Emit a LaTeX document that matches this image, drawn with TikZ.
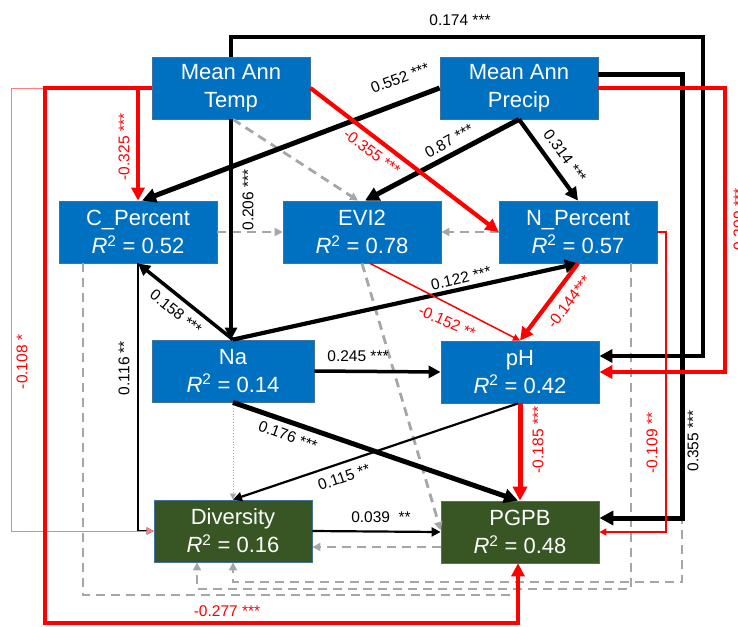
\documentclass[tikz,border=0pt]{standalone}
\usepackage{fontspec}
\setmainfont{Liberation Sans}
\usetikzlibrary{arrows.meta,calc}
\definecolor{boxblue}{HTML}{0070C0}
\definecolor{boxgreen}{HTML}{375623}
\definecolor{boxedge}{HTML}{41719C}
\definecolor{dgray}{HTML}{A6A6A6}
\definecolor{lred}{HTML}{FF7C80}
\begin{document}
\begin{tikzpicture}[x=1pt,y=-1pt,
  box/.style={minimum width=158pt,minimum height=62pt,inner sep=0pt,draw=boxedge,line width=0.8pt,text=white,align=center,font=\fontsize{22}{28}\selectfont},
  bluebox/.style={box,fill=boxblue},
  greenbox/.style={box,fill=boxgreen},
  blk/.style={draw=black},
  rd/.style={draw=red},
  w1/.style={line width=1.5pt,-{Triangle[length=7pt,width=7pt]}},
  w2/.style={line width=2.2pt,-{Triangle[length=9pt,width=9pt]}},
  w3/.style={line width=3.5pt,-{Triangle[length=12pt,width=12pt]}},
  w4/.style={line width=4.2pt,-{Triangle[length=13pt,width=13pt]}},
  w5/.style={line width=5pt,-{Triangle[length=14pt,width=14pt]}},
  gdash/.style={draw=dgray,line width=2.8pt,dash pattern=on 9pt off 6pt,-{Triangle[length=8pt,width=8pt]}},
  gdot/.style={draw=dgray,line width=0.8pt,dotted,-{Triangle[length=6pt,width=6pt]}},
  lab/.style={font=\fontsize{15.5}{17}\selectfont,inner sep=1pt},
  rlab/.style={lab,text=red}
]
\useasboundingbox (0,0) rectangle (738,626);
% nodes
\node[bluebox] (Temp) at (231,88) {Mean Ann\\Temp};
\node[bluebox] (Precip) at (519,88) {Mean Ann\\Precip};
\node[bluebox] (CP) at (138,232) {C\_Percent\\\textit{R}\textsuperscript{2} = 0.52};
\node[bluebox] (EVI) at (362,232) {EVI2\\\textit{R}\textsuperscript{2} = 0.78};
\node[bluebox] (NP) at (578,232) {N\_Percent\\\textit{R}\textsuperscript{2} = 0.57};
\node[bluebox,minimum width=162pt] (Na) at (233,371) {Na\\\textit{R}\textsuperscript{2} = 0.14};
\node[bluebox] (pH) at (520,372) {pH\\\textit{R}\textsuperscript{2} = 0.42};
\node[greenbox] (Div) at (233,531) {Diversity\\\textit{R}\textsuperscript{2} = 0.16};
\node[greenbox] (PGPB) at (520,532) {PGPB\\\textit{R}\textsuperscript{2} = 0.48};
% gray dashed
\draw[gdash] ([yshift=14pt]Precip.east) -- (682,74) -- (682,582) -- (233,582) -- (Div.south);
\draw[gdash] ([xshift=53pt]NP.south) -- (631,589) -- (197,589) -- ([xshift=-36pt]Div.south);
\draw[gdash] ([xshift=-55pt]CP.south) -- (83,595) -- (518,595) -- ([xshift=-2pt]PGPB.south);
\draw[gdash] ([xshift=2pt]Temp.south) -- ([xshift=-4pt]EVI.north);
\draw[gdash] (CP.east) -- (EVI.west);
\draw[gdash] (NP.west) -- (EVI.east);
\draw[gdash] (EVI.south) -- ([yshift=2pt]PGPB.west);
\draw[gdash] ([yshift=-15pt]PGPB.west) -- ([yshift=-16pt]Div.east);
\draw[gdot] (Na.south) -- (Div.north);
% black
\draw[blk,w4] (Temp.north) -- (231,37) -- (703,37) -- (703,356) -- ([yshift=16pt]pH.east);
\draw[blk,w5] ([yshift=14pt]Precip.east) -- (682,74) -- (682,518) -- ([yshift=14pt]PGPB.east);
\draw[blk,w5] (Precip.west) -- ([xshift=4pt]CP.north);
\draw[blk,w5] (Precip.south) -- ([xshift=3pt]EVI.north);
\draw[blk,w4] (Precip.south) -- (NP.north);
\draw[blk,w3] (Temp.south) -- ([xshift=-2pt]Na.north);
\draw[blk,w3] (Na.north) -- (CP.south);
\draw[blk,w4] (Na.north) -- (NP.south);
\draw[blk,w3] (Na.east) -- (pH.west);
\draw[blk,w5] (Na.south) -- ([xshift=-2pt]PGPB.north);
\draw[blk,w2] ([xshift=-2pt]pH.south) -- (Div.north);
\draw[blk,w2] (Div.east) -- (PGPB.west);
\draw[blk,w1] (CP.south) -- (138,531) -- (Div.west);
% red
\draw[rd,w4] (Precip.east) -- (725,88) -- (725,372) -- (pH.east);
\draw[rd,w4] (Temp.west) -| (CP.north);
\draw[lred,line width=1pt,-{Triangle[length=7pt,width=7pt]}] (Temp.west) -- (11,88) -- (11,531) -- (Div.west);
\draw[rd,w4] (Temp.west) -- (45,88) -- (45,623) -- (518,623) -- ([xshift=-2pt]PGPB.south);
\draw[rd,w4] (Temp.east) -- (NP.west);
\draw[rd,w1] ([xshift=8pt]EVI.south) -- (pH.north);
\draw[rd,w4] (NP.south) -- (pH.north);
\draw[rd,w5] (pH.south) -- (PGPB.north);
\draw[rd,w1] (NP.east) -- (666,232) -- (666,532) -- (PGPB.east);
% labels
\node[lab] (l1) at (460,20) {0.174 ***};
\node[lab,rotate=21] (l2) at (400,78) {0.552 ***};
\node[rlab,rotate=90] (l3) at (124,147) {-0.325 ***};
\node[rlab,rotate=-37] (l4) at (372,152) {-0.355 ***};
\node[lab,rotate=29] (l5) at (449,141) {0.87 ***};
\node[lab,rotate=-54] (l6) at (565,156) {0.314 ***};
\node[lab,rotate=90] (l7) at (248,200) {0.206 ***};
\node[lab,rotate=-39] (l8) at (176,312) {0.158 ***};
\node[lab,rotate=13] (l9) at (461,278) {0.122 ***};
\node[rlab,rotate=-24] (l10) at (447,322) {-0.152 **};
\node[rlab,rotate=53] (l11) at (569,302) {-0.144***};
\node[lab] (l12) at (358,356) {0.245 ***};
\node[lab,rotate=-20] (l13) at (288,436) {0.176 ***};
\node[lab,rotate=19] (l14) at (344,477) {0.115 **};
\node[rlab,rotate=90] (l15) at (538,440) {-0.185 ***};
\node[rlab,rotate=90] (l16) at (652,443) {-0.109 **};
\node[lab,rotate=90] (l17) at (693,441) {0.355 ***};
\node[lab] (l18) at (381,517) {0.039\ \ **};
\node[rlab,rotate=90] (l19) at (22,362) {-0.108 *};
\node[lab,rotate=90] (l20) at (124,368) {0.116 **};
\node[rlab] (l21) at (227,611) {-0.277 ***};
\node[rlab,rotate=90] (l22) at (739,222) {-0.209 ***};
\end{tikzpicture}
\end{document}
